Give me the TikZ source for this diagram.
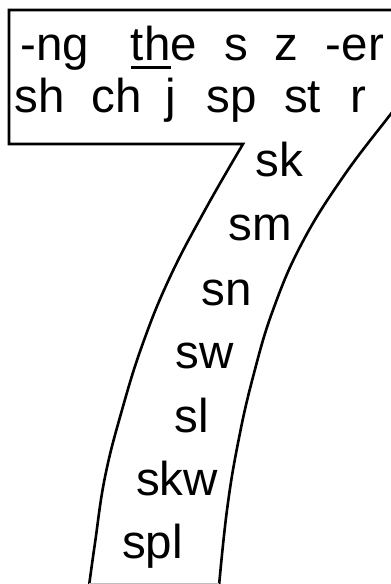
\documentclass[tikz,border=0pt]{standalone}
\usepackage{fontspec}
\setmainfont{Liberation Sans}
\begin{document}
\begin{tikzpicture}[x=1pt,y=-1pt,
  lbl/.style={inner sep=0pt, anchor=base, font=\fontsize{47.5}{56}\selectfont},
  edge/.style={line width=2.6pt, line join=miter}]
\useasboundingbox (0,0) rectangle (391,584);
% outline of the 7
\draw[edge] (400,10) -- (9,10) -- (9,144) -- (243,144) -- plot[smooth, tension=0.7] coordinates {(243,144) (205,210) (170,277) (143,343) (122,410) (105,477) (95,543) (89,586)};
\draw[edge] plot[smooth, tension=0.7] coordinates {(396,107) (390,115) (343,177) (302,243) (273,310) (253,377) (238,443) (227,510) (219,586)};
\draw[gray!50, line width=1pt] (89,583.5) -- (219,583.5);
% row 1
\node[lbl] (ng) at (55,60) {-ng};
\node[lbl] (the) at (164,60) {the};
\node[lbl] (s) at (236,60) {s};
\node[lbl] (z) at (286,60) {z};
\node[lbl] (er) at (355,60) {-er};
\coordinate (ul1) at (131,67);
\coordinate (ul2) at (171,67);
\draw[line width=3pt] (ul1) -- (ul2);
% row 2
\node[lbl] (sh) at (40,112) {sh};
\node[lbl] (ch) at (116.5,112) {ch};
\node[lbl] (j) at (171,112) {j};
\node[lbl] (sp) at (231.5,112) {sp};
\node[lbl] (st) at (302.5,112) {st};
\node[lbl] (r) at (358.5,112) {r};
% column
\node[lbl] (sk) at (279.5,176) {sk};
\node[lbl] (sm) at (260,240) {sm};
\node[lbl] (sn) at (226.5,305) {sn};
\node[lbl] (sw) at (204.5,368) {sw};
\node[lbl] (sl) at (192,432) {sl};
\node[lbl] (skw) at (177,495) {skw};
\node[lbl] (spl) at (152.5,558) {spl};
\end{tikzpicture}
\end{document}
